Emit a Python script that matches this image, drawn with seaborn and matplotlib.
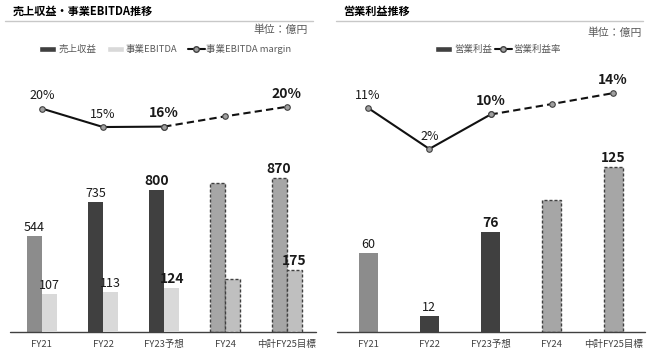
import matplotlib
matplotlib.use("Agg")
import matplotlib.pyplot as plt
import seaborn as sns
import pandas as pd
from matplotlib.patches import Patch
from matplotlib.lines import Line2D

# ---------------- data ----------------
categories = ["FY21", "FY22", "FY23予想", "FY24", "中計FY25目標"]
revenue = [544, 735, 800, 840, 870]
ebitda = [107, 113, 124, 150, 175]
ebitda_margin = [19.7, 15.4, 15.5, 17.9, 20.1]
ebitda_margin_labels = ["20%", "15%", "16%", "", "20%"]
op_profit = [60, 12, 76, 100, 125]
op_margin = [11.0, 1.6, 9.5, 11.9, 14.4]
op_margin_labels = ["11%", "2%", "10%", "", "14%"]
revenue_show = [True, True, True, False, True]
ebitda_show = [True, True, True, False, True]
op_show = [True, True, True, False, True]
bold_idx = [2, 4]

# ---------------- style ----------------
sns.set_style("white")
plt.rcParams["font.family"] = ["Noto Sans CJK JP", "DejaVu Sans"]

W, H = 648, 355
fig = plt.figure(figsize=(W / 100, H / 100), dpi=100)

def fx(px):
    return px / W

def fy(py):
    return 1 - py / H

rev_colors = ["#8c8c8c", "#404040", "#404040", "#a6a6a6", "#a6a6a6"]
ebit_colors = ["#d9d9d9", "#d9d9d9", "#d9d9d9", "#bfbfbf", "#bfbfbf"]
op_colors = ["#8c8c8c", "#404040", "#404040", "#a6a6a6", "#a6a6a6"]
dashed = [False, False, False, True, True]
TXT = "#1a1a1a"


def style_bars(ax, colors):
    for cont in ax.containers:
        for bar in cont:
            i = int(round(bar.get_x() + bar.get_width() / 2))
            bar.set_facecolor(colors[i])
            if dashed[i]:
                bar.set_edgecolor("#404040")
                bar.set_linewidth(1.0)
                bar.set_linestyle((0, (2.2, 1.4)))
            else:
                bar.set_edgecolor(colors[i])
                bar.set_linewidth(0)


def label_bars(ax, values, show, off=1.5):
    for cont in ax.containers:
        for bar in cont:
            i = int(round(bar.get_x() + bar.get_width() / 2))
            if not show[i]:
                continue
            b = i in bold_idx
            ax.annotate(f"{values[i]}", (bar.get_x() + bar.get_width() / 2, bar.get_height()),
                        xytext=(0, off), textcoords="offset points", ha="center", va="bottom",
                        fontsize=10 if b else 9, fontweight="bold" if b else "normal", color=TXT)


def margin_line(ax, vals, labels):
    idx = list(range(len(vals)))
    sns.lineplot(x=idx[:3], y=vals[:3], ax=ax, color="#111111", linewidth=1.5, marker="o",
                 markersize=4, markerfacecolor="#a0a0a0", markeredgecolor="#404040", markeredgewidth=0.8)
    sns.lineplot(x=idx[2:], y=vals[2:], ax=ax, color="#111111", linewidth=1.5, linestyle=(0, (3.5, 2)),
                 marker="o", markersize=4, markerfacecolor="#a0a0a0", markeredgecolor="#404040",
                 markeredgewidth=0.8)
    for i, (v, lab) in enumerate(zip(vals, labels)):
        if not lab:
            continue
        b = i in bold_idx
        ax.annotate(lab, (i, v), xytext=(0, 4.5), textcoords="offset points", ha="center", va="bottom",
                    fontsize=10 if b else 9, fontweight="bold" if b else "normal", color=TXT)


def clean(ax):
    for s in ["top", "right", "left", "bottom"]:
        ax.spines[s].set_visible(False)
    ax.set_yticks([])
    ax.set_ylabel("")
    ax.set_xlabel("")
    ax.grid(False)
    ax.patch.set_alpha(0)


# ---------------- left panel ----------------
ax_bottom, ax_h = fy(332), (332 - 60) / H
axL = fig.add_axes([fx(10), ax_bottom, 306 / W, ax_h])
dfL = pd.DataFrame({"cat": categories * 2,
                    "measure": ["rev"] * 5 + ["ebitda"] * 5,
                    "value": revenue + ebitda})
sns.barplot(data=dfL[dfL.measure == "rev"], x="cat", y="value", hue="measure",
            hue_order=["rev", "ebitda"], order=categories, dodge=True, width=0.49,
            ax=axL, legend=False, palette=["#404040", "#d9d9d9"])
axLe = axL.twinx()
sns.barplot(data=dfL[dfL.measure == "ebitda"], x="cat", y="value", hue="measure",
            hue_order=["rev", "ebitda"], order=categories, dodge=True, width=0.49,
            ax=axLe, legend=False, palette=["#404040", "#d9d9d9"])
axLm = axL.twinx()
style_bars(axL, rev_colors)
style_bars(axLe, ebit_colors)
axL.set_ylim(0, 1537)
axLe.set_ylim(0, 768)
axLm.set_ylim(-32.3, 31.0)
label_bars(axL, revenue, revenue_show)
label_bars(axLe, ebitda, ebitda_show)
margin_line(axLm, ebitda_margin, ebitda_margin_labels)
for a in (axL, axLe, axLm):
    clean(a)
    a.set_xlim(-0.52, 4.48)
axL.axhline(0, color="#404040", linewidth=1.0, clip_on=False)
axL.set_xticks(range(5))
axL.set_xticklabels(categories, fontsize=6.8, color="#404040")
axL.tick_params(axis="x", length=0, pad=6)
axLe.tick_params(axis="x", length=0, labelbottom=False)
axLm.tick_params(axis="x", length=0, labelbottom=False)

# ---------------- right panel ----------------
axR = fig.add_axes([fx(337), ax_bottom, 308 / W, ax_h])
dfR = pd.DataFrame({"cat": categories, "value": op_profit})
sns.barplot(data=dfR, x="cat", y="value", order=categories, width=0.31, ax=axR, color="#404040")
axRm = axR.twinx()
style_bars(axR, op_colors)
axR.set_ylim(0, 206)
axRm.set_ylim(-40.4, 22.0)
label_bars(axR, op_profit, op_show)
margin_line(axRm, op_margin, op_margin_labels)
for a in (axR, axRm):
    clean(a)
    a.set_xlim(-0.506, 4.52)
axR.axhline(0, color="#404040", linewidth=1.0, clip_on=False)
axR.set_xticks(range(5))
axR.set_xticklabels(categories, fontsize=6.8, color="#404040")
axR.tick_params(axis="x", length=0, pad=6)
axRm.tick_params(axis="x", length=0, labelbottom=False)

# ---------------- headers ----------------
fig.text(fx(13), fy(11.5), "売上収益・事業EBITDA推移", fontsize=8, fontweight="bold",
         va="center", ha="left", color="#000000")
fig.text(fx(343), fy(11.5), "営業利益推移", fontsize=8, fontweight="bold",
         va="center", ha="left", color="#000000")
fig.add_artist(Line2D([fx(5), fx(313)], [fy(20.5), fy(20.5)], color="#c8c8c8", linewidth=1.0))
fig.add_artist(Line2D([fx(336), fx(643)], [fy(20.5), fy(20.5)], color="#c8c8c8", linewidth=1.0))
fig.text(fx(308), fy(30), "単位：億円", fontsize=7.8, va="center", ha="right", color="#595959")
fig.text(fx(642), fy(33), "単位：億円", fontsize=7.8, va="center", ha="right", color="#595959")

line_handle = Line2D([], [], color="#111111", linewidth=1.5, marker="o", markersize=4,
                     markerfacecolor="#a0a0a0", markeredgecolor="#404040")
legL = fig.legend(handles=[Patch(facecolor="#404040"), Patch(facecolor="#d9d9d9"), line_handle],
                  labels=["売上収益", "事業EBITDA", "事業EBITDA margin"], ncol=3,
                  loc="center", bbox_to_anchor=(fx(165.5), fy(49)), frameon=False,
                  fontsize=6.8, handlelength=1.8, handleheight=0.6, handletextpad=0.2,
                  columnspacing=1.1, labelcolor="#595959", borderpad=0)
legR = fig.legend(handles=[Patch(facecolor="#404040"), line_handle],
                  labels=["営業利益", "営業利益率"], ncol=2,
                  loc="center", bbox_to_anchor=(fx(498), fy(49.5)), frameon=False,
                  fontsize=6.8, handlelength=1.8, handleheight=0.6, handletextpad=0.2,
                  columnspacing=0.3, labelcolor="#595959", borderpad=0)

fig.savefig("out.png", dpi=100)
